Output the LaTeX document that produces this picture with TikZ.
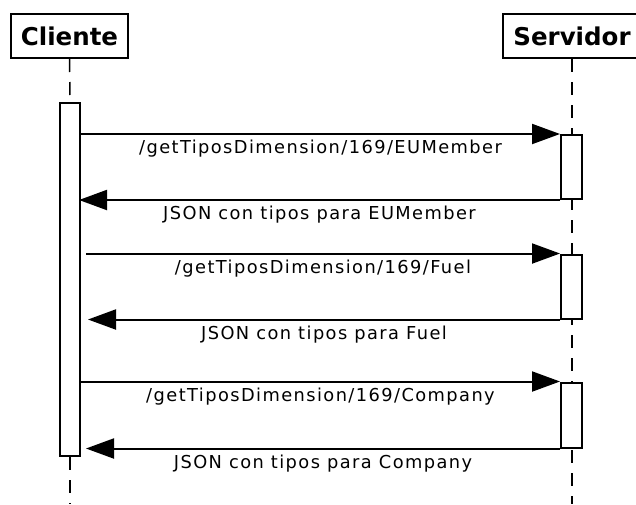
\documentclass[tikz,border=0pt]{standalone}
\usepackage{fontspec}
\setmainfont{DejaVu Sans}
\newfontfamily\msgfont[LetterSpace=8]{DejaVu Sans}
\usetikzlibrary{arrows.meta,backgrounds}
\begin{document}
\begin{tikzpicture}[x=1pt,y=-1pt,
  head/.style={draw,line width=2pt,rectangle,inner sep=0pt,minimum height=44pt,
    font=\bfseries\fontsize{24.5}{28}\selectfont},
  bar/.style={draw,fill=white,line width=2pt,rectangle,inner sep=0pt,minimum width=21pt},
  lifeline/.style={line width=1.5pt,dash pattern=on 13pt off 10pt},
  msg/.style={line width=2pt,-{Triangle[length=28pt,width=20pt]}},
  lbl/.style={font=\msgfont\fontsize{17.8}{21}\selectfont,inner sep=0pt,anchor=north,yshift=-5pt}]
\useasboundingbox (0,0) rectangle (636,504);

% participants
\node[head,minimum width=117pt] (cli) at (69.5,36) {Cliente};
\node[head,minimum width=138pt] (srv) at (572,36) {Servidor};

% activation bars
\node[bar,minimum width=20pt,minimum height=353pt] (cb) at (70,279.5) {};
\node[bar,minimum height=64pt] (sb1) at (571.5,167) {};
\node[bar,minimum height=64pt] (sb2) at (571.5,286.5) {};
\node[bar,minimum height=65pt] (sb3) at (571.5,415) {};

% lifelines
\coordinate (cend) at (70,504);
\coordinate (send) at (572,504);
\begin{scope}[on background layer]
  \draw[lifeline] (cli.south) -- (cb.north);
  \draw[lifeline] (cb.south) -- (cend);
  \draw[lifeline] (srv.south -| send) -- (send);
\end{scope}

% requests and responses
\draw[msg] (cb.east |- sb1.north) -- (sb1.north west)
  node[lbl,midway] {/getTiposDimension/169/EUMember};
\draw[msg] (sb1.south west) -- ([xshift=-2pt]cb.east |- sb1.south)
  node[lbl,midway] {JSON con tipos para EUMember};

\draw[msg] ([xshift=5pt]cb.east |- sb2.north) -- (sb2.north west)
  node[lbl,midway] {/getTiposDimension/169/Fuel};
\draw[msg] (sb2.south west) -- ([xshift=7pt]cb.east |- sb2.south)
  node[lbl,midway] {JSON con tipos para Fuel};

\draw[msg] (cb.east |- sb3.north) -- (sb3.north west)
  node[lbl,midway] {/getTiposDimension/169/Company};
\draw[msg] (sb3.south west) -- ([xshift=5pt]cb.east |- sb3.south)
  node[lbl,midway] {JSON con tipos para Company};
\end{tikzpicture}
\end{document}
